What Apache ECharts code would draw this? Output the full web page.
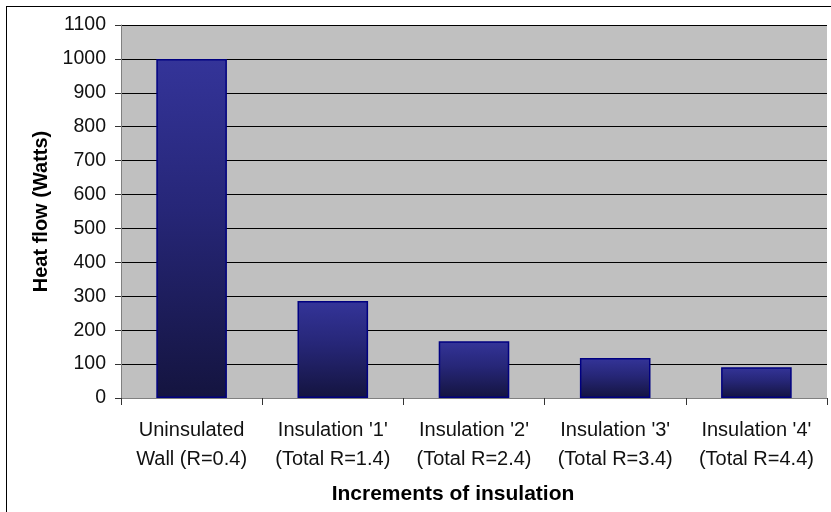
<!DOCTYPE html>
<html>
<head>
<meta charset="utf-8">
<script src="https://cdn.jsdelivr.net/npm/echarts@6/dist/echarts.min.js"></script>
<style>
  html, body { margin: 0; padding: 0; background: #fff; }
  #frame {
    position: absolute; left: 6px; top: 6px; width: 840px; height: 520px;
    border-top: 1px solid #000; border-left: 1px solid #000;
  }
  #chart { position: absolute; left: 0; top: 0; width: 831px; height: 512px; }
</style>
</head>
<body>
<div id="frame"></div>
<div id="chart"></div>
<script>
// heat flow through the wall for each insulation step
const categories = [
  'Uninsulated\nWall (R=0.4)',
  "Insulation '1'\n(Total R=1.4)",
  "Insulation '2'\n(Total R=2.4)",
  "Insulation '3'\n(Total R=3.4)",
  "Insulation '4'\n(Total R=4.4)"
];
const heatFlow = [1000, 286, 167, 118, 91];
const yTicks = [0, 100, 200, 300, 400, 500, 600, 700, 800, 900, 1000, 1100];

const chart = echarts.init(document.getElementById('chart'));

const option = {
  animation: false,
  grid: {
    left: 121,
    right: 4,
    top: 25,
    bottom: 114,
    show: true,
    backgroundColor: '#c0c0c0',
    borderWidth: 0
  },
  xAxis: {
    type: 'category',
    data: categories,
    name: 'Increments of insulation',
    nameLocation: 'middle',
    nameGap: 86,
    nameTextStyle: {
      fontFamily: 'Liberation Sans',
      fontWeight: 'bold',
      fontSize: 21,
      color: '#000',
      padding: [0, 42, 0, 0]
    },
    axisLine: { lineStyle: { color: '#808080', width: 1 } },
    axisTick: { show: true, interval: 0, length: 7, lineStyle: { color: '#333' } },
    axisLabel: {
      interval: 0,
      hideOverlap: false,
      margin: 18,
      fontFamily: 'Liberation Sans',
      fontSize: 20,
      lineHeight: 29,
      color: '#111'
    }
  },
  yAxis: {
    type: 'value',
    min: yTicks[0],
    max: yTicks[yTicks.length - 1],
    interval: 100,
    name: 'Heat flow (Watts)',
    nameLocation: 'middle',
    nameRotate: 90,
    nameGap: 69,
    nameTextStyle: {
      fontFamily: 'Liberation Sans',
      fontWeight: 'bold',
      fontSize: 20,
      color: '#000'
    },
    axisLine: { show: true, lineStyle: { color: '#808080', width: 1 } },
    axisTick: { show: true, length: 6, lineStyle: { color: '#333' } },
    axisLabel: {
      margin: 15,
      fontFamily: 'Liberation Sans',
      fontSize: 19.5,
      color: '#111',
      formatter: function (v) { return String(v); }
    },
    splitLine: { show: true, lineStyle: { color: '#000', width: 1 } }
  },
  series: [{
    type: 'bar',
    data: heatFlow,
    barWidth: '50%',
    itemStyle: {
      borderColor: '#000080',
      borderWidth: 1.5,
      color: new echarts.graphic.LinearGradient(0, 0, 0, 1, [
        { offset: 0, color: '#343499' },
        { offset: 0.45, color: '#262677' },
        { offset: 1, color: '#14143f' }
      ])
    }
  }]
};

chart.setOption(option);
</script>
</body>
</html>
